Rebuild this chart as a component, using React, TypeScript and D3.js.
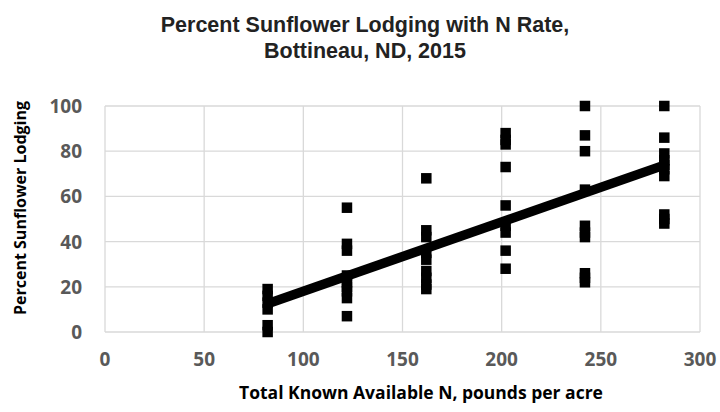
import * as React from "react";
import { useEffect, useRef } from "react";
import { select, scaleLinear, line } from "d3";

// N rate (lb/acre) and percent lodging readings, one row per rate
const nRates = [82, 122, 162, 202, 242, 282];
const lodging82 = [0, 3, 10, 13, 16, 19];
const lodging122 = [7, 15, 18, 20, 22, 25, 36, 39, 55];
const lodging162 = [19, 21, 24, 27, 32, 35, 42, 45, 68];
const lodging202 = [28, 36, 44, 47, 56, 73, 83, 85, 88];
const lodging242 = [22, 24, 26, 42, 44, 47, 63, 80, 87, 100];
const lodging282 = [48, 50, 52, 69, 72, 74, 76, 79, 86, 100];
const lodgingByRate = [lodging82, lodging122, lodging162, lodging202, lodging242, lodging282];

// linear trend
const trendSlope = 0.3065;
const trendIntercept = -12.6;

const xTicks = [0, 50, 100, 150, 200, 250, 300];
const yTicks = [0, 20, 40, 60, 80, 100];

const title = ["Percent Sunflower Lodging with N Rate,", "Bottineau, ND, 2015"];
const xTitle = "Total Known Available N, pounds per acre";
const yTitle = "Percent Sunflower Lodging";

const App: React.FC = () => {
    const node = useRef<SVGSVGElement>(null);
    const width = 720, height = 412;
    const margin = {top: 106, right: 20, bottom: 80, left: 105};

    useEffect(() => {
        if (!node.current) return;
        const svg = select(node.current);
        svg.selectAll("*").remove();

        const x = scaleLinear().domain([0, 300]).range([margin.left, width - margin.right]);
        const y = scaleLinear().domain([0, 100]).range([height - margin.bottom, margin.top]);

        svg.append("rect").attr("width", width).attr("height", height).attr("fill", "#fff");

        // title
        svg.append("g").selectAll("text").data(title).join("text")
            .attr("x", 365)
            .attr("y", (d, i) => 32 + i * 25.5)
            .attr("text-anchor", "middle")
            .attr("font-family", "Liberation Sans, Arial, sans-serif")
            .attr("font-weight", "bold")
            .attr("font-size", 21.5)
            .attr("fill", "#222")
            .text(d => d);

        // grid
        const grid = svg.append("g").attr("stroke", "#d9d9d9").attr("stroke-width", 1.3);
        grid.selectAll("line.h").data(yTicks).join("line").attr("class", "h")
            .attr("x1", x(0)).attr("x2", x(300))
            .attr("y1", d => y(d)).attr("y2", d => y(d));
        grid.selectAll("line.v").data(xTicks).join("line").attr("class", "v")
            .attr("y1", y(0)).attr("y2", y(100))
            .attr("x1", d => x(d)).attr("x2", d => x(d));

        const tickFont = "Open Sans, sans-serif";
        svg.append("g").selectAll("text").data(yTicks).join("text")
            .attr("x", 82)
            .attr("y", d => y(d) + 7)
            .attr("text-anchor", "end")
            .attr("font-family", tickFont)
            .attr("font-weight", "bold")
            .attr("font-size", 19)
            .attr("fill", "#595959")
            .text(d => d);
        svg.append("g").selectAll("text").data(xTicks).join("text")
            .attr("x", d => x(d))
            .attr("y", 366)
            .attr("text-anchor", "middle")
            .attr("font-family", tickFont)
            .attr("font-weight", "bold")
            .attr("font-size", 19)
            .attr("fill", "#595959")
            .text(d => d);

        svg.append("text")
            .attr("x", 421).attr("y", 399)
            .attr("text-anchor", "middle")
            .attr("font-family", tickFont)
            .attr("font-weight", "bold")
            .attr("font-size", 17.5)
            .attr("fill", "#000")
            .text(xTitle);
        svg.append("text")
            .attr("transform", "translate(26,208) rotate(-90)")
            .attr("text-anchor", "middle")
            .attr("font-family", tickFont)
            .attr("font-weight", "bold")
            .attr("font-size", 16)
            .attr("fill", "#000")
            .text(yTitle);

        // points
        const pts = nRates.flatMap((r, i) => lodgingByRate[i].map(v => ({r, v})));
        const ms = 10.5;
        svg.append("g").selectAll("rect").data(pts).join("rect")
            .attr("x", d => x(d.r) - ms / 2)
            .attr("y", d => y(d.v) - ms / 2)
            .attr("width", ms).attr("height", ms)
            .attr("fill", "#000");

        // trend line
        const ends = [nRates[0], nRates[nRates.length - 1]];
        const trend = line<number>()
            .x(d => x(d))
            .y(d => y(trendSlope * d + trendIntercept));
        svg.append("path")
            .datum(ends)
            .attr("d", trend)
            .attr("fill", "none")
            .attr("stroke", "#000")
            .attr("stroke-width", 9.5);
    }, []);

    return <svg width={width} height={height} ref={node} style={{position: "absolute", left: 0, top: 0}}/>;
};

export default App;
